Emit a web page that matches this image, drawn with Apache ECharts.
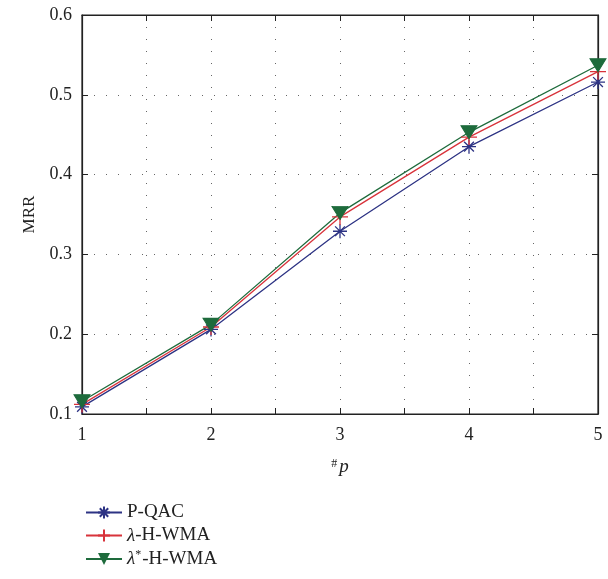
<!DOCTYPE html>
<html>
<head>
<meta charset="utf-8">
<script src="https://cdn.jsdelivr.net/npm/echarts@6/dist/echarts.min.js"></script>
<style>html,body{margin:0;padding:0;background:#fff;}</style>
</head>
<body>
<div id="chart" style="width:608px;height:579px;"></div>
<script>
var pValues = [1, 2, 3, 4, 5];
var pqac = [0.109, 0.206, 0.329, 0.435, 0.516];
var lambdaHwma = [0.112, 0.209, 0.347, 0.447, 0.529];
var lambdaStarHwma = [0.116, 0.212, 0.352, 0.453, 0.537];
var seriesNames = ['P-QAC', 'λ-H-WMA', 'λ*-H-WMA'];

function pairs(ys){
  var out = [];
  for (var i = 0; i < pValues.length; i++) out.push([pValues[i], ys[i]]);
  return out;
}

var font = 'Liberation Serif';
var asterisk = 'path://M0,5L10,5M5,0L5,10M1.5,1.5L8.5,8.5M8.5,1.5L1.5,8.5';
var plus = 'path://M0,5L10,5M5,0L5,10';

var myChart = echarts.init(document.getElementById('chart'));
var option = {
  animation: false,
  textStyle: {fontFamily: font},
  grid: {left: 82, right: 10, top: 15, bottom: 165, show: true, borderColor: '#222', borderWidth: 1.2, backgroundColor: 'transparent'},
  legend: {
    orient: 'vertical', left: 80, top: 498, itemGap: 4, itemWidth: 36, itemHeight: 15,
    data: seriesNames,
    textStyle: {fontFamily: font, fontSize: 19, color: '#222',
      rich: {it: {fontFamily: font, fontStyle: 'italic', fontSize: 19, color: '#222'},
             sup: {fontFamily: font, fontSize: 12, color: '#222', verticalAlign: 'top', padding: [0, 1, 8, 0]},
             n: {fontFamily: font, fontSize: 19, color: '#222'}}},
    formatter: function(name){
      if (name === 'λ-H-WMA') return '{it|λ}{n|-H-WMA}';
      if (name === 'λ*-H-WMA') return '{it|λ}{sup|*}{n|-H-WMA}';
      return name;
    }
  },
  xAxis: [{
    type: 'value', min: 1, max: 5, interval: 0.5,
    name: '{a|#}{b|p}', nameLocation: 'middle', nameGap: 43,
    nameTextStyle: {rich: {a: {fontFamily: font, fontSize: 12, color: '#222', padding: [0, 2, 6, 0]}, b: {fontFamily: font, fontStyle: 'italic', fontSize: 19, color: '#222'}}},
    axisLine: {show: true, lineStyle: {color: '#222', width: 1.2}},
    axisTick: {inside: true, length: 6, lineStyle: {color: '#222'}},
    axisLabel: {fontFamily: font, fontSize: 18, color: '#222', margin: 12,
      formatter: function(v){ return Number.isInteger(v) ? String(v) : ''; }},
    splitLine: {show: true, lineStyle: {color: '#666', type: [1, 11], width: 1}}
  }, {
    type: 'value', min: 1, max: 5, interval: 0.5, position: 'top',
    axisLine: {show: true, lineStyle: {color: '#222', width: 1.2}},
    axisTick: {inside: true, length: 6, lineStyle: {color: '#222'}},
    axisLabel: {show: false}, splitLine: {show: false}
  }],
  yAxis: [{
    type: 'value', min: 0.1, max: 0.6, interval: 0.1,
    name: 'MRR', nameLocation: 'middle', nameGap: 44,
    nameTextStyle: {fontFamily: font, fontSize: 17, color: '#222'},
    axisLine: {show: true, lineStyle: {color: '#222', width: 1.2}},
    axisTick: {inside: true, length: 6, lineStyle: {color: '#222'}},
    axisLabel: {fontFamily: font, fontSize: 18, color: '#222', margin: 10,
      formatter: function(v){ return v.toFixed(1); }},
    splitLine: {show: true, lineStyle: {color: '#666', type: [1, 11], width: 1}}
  }, {
    type: 'value', min: 0.1, max: 0.6, interval: 0.1, position: 'right',
    axisLine: {show: true, lineStyle: {color: '#222', width: 1.2}},
    axisTick: {inside: true, length: 6, lineStyle: {color: '#222'}},
    axisLabel: {show: false}, splitLine: {show: false}
  }],
  series: [{
    name: seriesNames[0], type: 'line', data: pairs(pqac),
    symbol: asterisk, symbolSize: 14,
    lineStyle: {color: '#2d3384', width: 1.3},
    itemStyle: {color: 'rgba(0,0,0,0)', borderColor: '#2d3384', borderWidth: 1.3}
  }, {
    name: seriesNames[1], type: 'line', data: pairs(lambdaHwma),
    symbol: plus, symbolSize: 16,
    lineStyle: {color: '#d8333b', width: 1.3},
    itemStyle: {color: 'rgba(0,0,0,0)', borderColor: '#d8333b', borderWidth: 1.3}
  }, {
    name: seriesNames[2], type: 'line', data: pairs(lambdaStarHwma),
    symbol: 'triangle', symbolRotate: 180, symbolSize: [16, 13],
    lineStyle: {color: '#1e6b3c', width: 1.3},
    itemStyle: {color: '#1e6b3c', borderColor: '#1e6b3c'}
  }]
};
myChart.setOption(option);
</script>
</body>
</html>
